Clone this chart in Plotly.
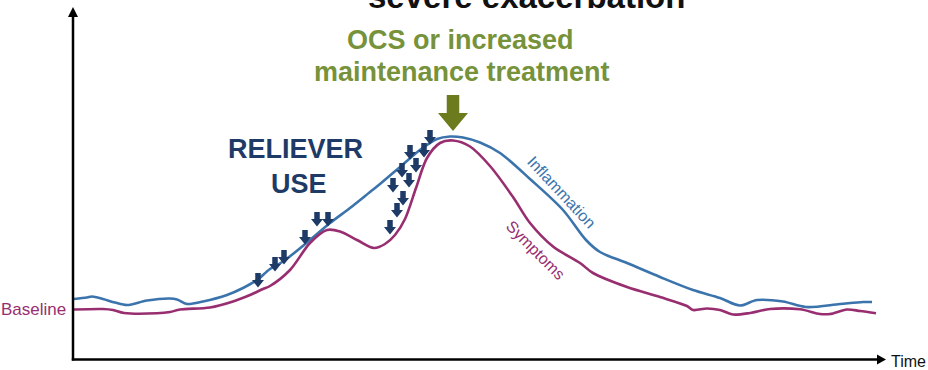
import plotly.graph_objects as go

# ---- data (time in px-scale units, level measured downward from the page top) ----
infl_t = [74, 87, 92, 103, 115, 127, 147, 170, 177, 187, 203, 227, 243, 257, 270, 283,
          310, 330, 350, 370, 380, 400, 420, 437, 450, 463, 480, 500, 530, 563,
          586, 600, 627, 660, 693, 720, 740, 757, 783, 806, 840, 863, 872]
infl_y = [299, 297.5, 296.5, 299, 302.5, 305, 300.5, 298.5, 299.5, 304, 301.5, 295, 288, 280,
          269, 261.5, 240, 223, 208, 192, 184, 167, 150, 139, 136.5, 137.5, 142.5, 153,
          179, 210, 240, 252, 263, 277, 290, 298, 305.5, 300, 301.5, 307, 304, 302, 302]

symp_t = [74, 103, 113, 124, 157, 170, 180, 210, 233, 250, 263, 270, 290, 310, 327, 340, 357,
          374, 385, 395, 405, 416, 427, 440, 453, 470, 490, 513, 530, 553, 580, 593, 627,
          660, 687, 693, 707, 720, 733, 750, 770, 800, 820, 830, 847, 860, 876]
symp_y = [309.5, 309, 310, 313, 313.3, 312, 309.5, 307.5, 301.5, 295, 289, 286, 270, 243, 230,
          231.5, 240, 248, 244, 235, 219, 188, 158, 143, 140.5, 146.5, 166, 197, 223,
          246.5, 263, 273, 287, 297, 306, 310, 308.5, 310, 314.5, 313, 309, 309.3, 314, 314,
          309.5, 311, 313.3]

# reliever doses (arrow centres)
dose_t = [258, 275, 284, 305, 317, 328, 390, 397, 393, 403, 402, 409, 410, 416, 424, 430]
dose_y = [280, 264, 257, 237, 219, 219, 227, 210, 185, 198, 170, 180, 152, 165, 150, 137]

H = 370
W = 928

def lv(vals):
    return [H - v for v in vals]

BLUE = "#3B74AC"
MAGENTA = "#982E70"
NAVY = "#1E3A66"
OLIVE = "#6C7B1E"
GREEN_TXT = "#76923A"

fig = go.Figure()
fig.add_trace(go.Scatter(x=infl_t, y=lv(infl_y), mode="lines",
                         line=dict(color=BLUE, width=2.6, shape="spline", smoothing=0.9),
                         hoverinfo="skip", showlegend=False))
fig.add_trace(go.Scatter(x=symp_t, y=lv(symp_y), mode="lines",
                         line=dict(color=MAGENTA, width=2.6, shape="spline", smoothing=0.9),
                         hoverinfo="skip", showlegend=False))

shapes = []


def block_arrow(cx, cy, shaft_w, head_w, top, mid, tip, color):
    # a downward block arrow; cx, cy in level units
    p = (f"M {cx - shaft_w / 2} {cy + top} L {cx + shaft_w / 2} {cy + top} "
         f"L {cx + shaft_w / 2} {cy + mid} L {cx + head_w / 2} {cy + mid} "
         f"L {cx} {cy + tip} L {cx - head_w / 2} {cy + mid} L {cx - shaft_w / 2} {cy + mid} Z")
    return dict(type="path", path=p, xref="x", yref="y", fillcolor=color,
                line=dict(width=0), layer="above")


for t, y in zip(dose_t, lv(dose_y)):
    shapes.append(block_arrow(t, y, 5.5, 12, 7, 0, -7.5, NAVY))

# treatment arrow above the peak
shapes.append(block_arrow(453, H - 113, 12.5, 30, 18, 0, -18, OLIVE))

# axes drawn as arrows
AX_X, AX_Y = 73, H - 359.5
shapes.append(dict(type="line", xref="x", yref="y", x0=AX_X, y0=AX_Y - 1, x1=AX_X, y1=H - 16,
                   line=dict(color="black", width=2.5)))
shapes.append(dict(type="path", xref="x", yref="y",
                   path=f"M {AX_X - 5} {H - 17} L {AX_X + 5} {H - 17} L {AX_X} {H - 7} Z",
                   fillcolor="black", line=dict(width=0)))
shapes.append(dict(type="line", xref="x", yref="y", x0=AX_X - 1.2, y0=AX_Y, x1=878, y1=AX_Y,
                   line=dict(color="black", width=2.5)))
shapes.append(dict(type="path", xref="x", yref="y",
                   path=f"M 877 {AX_Y + 5} L 877 {AX_Y - 5} L 886 {AX_Y} Z",
                   fillcolor="black", line=dict(width=0)))

FONT = "Liberation Sans, Arial, sans-serif"


def label(text, x, y, size, color, bold=False, angle=0, xanchor="center"):
    return dict(text=f"<b>{text}</b>" if bold else text, x=x, y=H - y, xref="x", yref="y",
                showarrow=False, xanchor=xanchor, yanchor="middle", textangle=angle,
                font=dict(family=FONT, size=size, color=color))


# heading sits mostly above the top edge of the page
title = label("severe exacerbation", 526, 0, 33, "#111111", bold=True)
title.update(yanchor="bottom", yshift=-17)

annotations = [
    title,
    label("OCS or increased", 460, 40, 27, GREEN_TXT, bold=True),
    label("maintenance treatment", 462, 72, 27, GREEN_TXT, bold=True),
    label("RELIEVER", 295, 149, 27, NAVY, bold=True),
    label("USE", 299, 184, 27, NAVY, bold=True),
    label("Inflammation", 562, 192, 16, BLUE, angle=47),
    label("Symptoms", 536, 250, 16, MAGENTA, angle=45),
    label("Baseline", 68, 309, 17, MAGENTA, xanchor="right"),
    label("Time", 889, 361, 16, "#111111", xanchor="left"),
]

fig.update_layout(
    width=W, height=H,
    margin=dict(l=0, r=0, t=0, b=0),
    paper_bgcolor="white", plot_bgcolor="white",
    xaxis=dict(range=[0, W], visible=False, fixedrange=True),
    yaxis=dict(range=[0, H], visible=False, fixedrange=True),
    shapes=shapes,
    annotations=annotations,
)

fig.write_html("out.html")
